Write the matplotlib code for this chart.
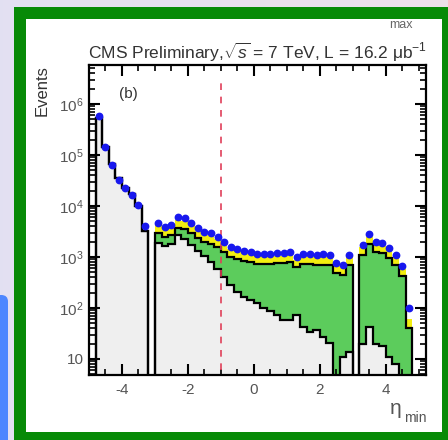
import matplotlib.pyplot as plt
import numpy as np
from matplotlib.patches import Rectangle, FancyBboxPatch

plt.rcParams['font.family'] = ['Liberation Sans', 'DejaVu Sans']
plt.rcParams['mathtext.fontset'] = 'custom'
plt.rcParams['mathtext.rm'] = 'Liberation Sans'
plt.rcParams['mathtext.it'] = 'Liberation Sans:italic'

# bins in eta_min, 0.2 wide, from -4.8 to 4.8
edges = np.round(np.arange(-4.8, 4.8 + 0.1, 0.2), 1)

# measured events (blue points)
data_counts = [575000, 145000, 63000, 32000, 22000, 16500, 10500, 4100, 0,
               4700, 3900, 4300, 6000, 5700, 4700, 3700, 3100, 2900, 2500,
               2000, 1600, 1450, 1320, 1260, 1150, 1150, 1150, 1200, 1200,
               1260, 1000, 1150, 1150, 1100, 1120, 1100, 760, 690, 1100, 0,
               1740, 2800, 1950, 1860, 1510, 1100, 660, 100]

# stacked components
grey_counts = [540000, 140000, 66000, 35000, 23000, 17500, 10000, 3300, 0,
               1860, 1660, 1780, 2700, 2240, 1740, 1320, 1050, 790, 575,
               400, 280, 210, 166, 145, 126, 100, 87, 72, 58,
               58, 72, 43, 34, 37, 27, 21, 0, 11, 14, 0,
               20, 42, 20, 18, 11, 8, 0, 0]
green_counts = [0, 0, 0, 0, 0, 0, 0, 0, 0,
                1100, 800, 930, 1080, 1350, 1220, 1010, 900, 1040, 1000,
                860, 730, 700, 665, 650, 600, 625, 638, 684, 698,
                736, 558, 682, 691, 656, 679, 672, 479, 424, 679, 0,
                1076, 1722, 1209, 1154, 940, 685, 416, 40]
yellow_counts = [0, 0, 0, 0, 0, 0, 0, 0, 0,
                 1220, 1010, 1120, 1560, 1480, 1220, 960, 800, 750, 650,
                 520, 420, 380, 340, 330, 300, 300, 300, 310, 310,
                 330, 260, 300, 300, 290, 290, 290, 200, 180, 290, 0,
                 450, 730, 510, 480, 390, 290, 170, 20]

eta_cut = -1.0

xtick_vals = [-4, -2, 0, 2, 4]
xtick_labels = ['-4', '-2', '0', '2', '4']
ytick_vals = [10, 1e2, 1e3, 1e4, 1e5, 1e6]
ytick_labels = ['10', '10$^{2}$', '10$^{3}$', '10$^{4}$', '10$^{5}$', '10$^{6}$']

W, H = 448, 440
fig = plt.figure(figsize=(W / 100, H / 100), dpi=100)

# page background with a soft lavender-to-pink gradient
bg = fig.add_axes([0, 0, 1, 1], zorder=-10)
grad = np.linspace(0, 1, 256)[None, :]
c0 = np.array([0.89, 0.88, 0.95])
c1 = np.array([0.93, 0.88, 0.92])
img = c0[None, None, :] * (1 - grad[..., None]) + c1[None, None, :] * grad[..., None]
bg.imshow(img, aspect='auto', extent=[0, 1, 0, 1])
bg.set_xlim(0, 1)
bg.set_ylim(0, 1)
bg.axis('off')

def px_rect(x0, y0, x1, y1, **kw):
    return Rectangle((x0 / W, 1 - y1 / H), (x1 - x0) / W, (y1 - y0) / H,
                     transform=fig.transFigure, **kw)

bg.add_patch(FancyBboxPatch((-20 / W, 1 - 460 / H), 28 / W, 165 / H,
                            boxstyle='round,pad=0,rounding_size=0.015',
                            transform=fig.transFigure, color='#4d86ff', lw=0))
bg.add_patch(px_rect(14, 7, 450, 442, color='#078a07', lw=0))
bg.add_patch(px_rect(26, 19, 442, 432, color='white', lw=0))

ax = fig.add_axes([89 / W, 1 - 375 / H, (426 - 89) / W, (375 - 65) / H])
ax.set_yscale('log')

floor = 1.0
grey = np.array(grey_counts, dtype=float)
green_top = grey + np.array(green_counts)
total = green_top + np.array(yellow_counts)
data = np.array(data_counts, dtype=float)

def fl(v):
    return np.where(v > 0, v, floor)

ax.stairs(fl(total), edges, baseline=floor, fill=True, color='#f2ee10', lw=0)
ax.stairs(fl(green_top), edges, baseline=floor, fill=True, color='#5ccc5c', lw=0)
ax.stairs(fl(grey), edges, baseline=floor, fill=True, color='#efefef', lw=0)
ax.stairs(fl(green_top), edges, baseline=floor, color='black', lw=1.6)
ax.stairs(fl(grey), edges, baseline=floor, color='black', lw=1.6)

ax.vlines(eta_cut, 1, 3e6, colors='#e0405a', linestyles=(0, (4, 4)), lw=1.2)

centers = (edges[:-1] + edges[1:]) / 2
m = data > 0
ax.plot(centers[m], data[m], 'o', color='#1818ee', ms=4.6, mec='#1818ee', zorder=5)

ax.set_xlim(-5, 5.22)
ax.set_ylim(4.85, 5.8e6)

ax.set_xticks(xtick_vals, xtick_labels)
ax.set_xticks(np.arange(-5, 5.01, 0.5), minor=True)
ax.set_yticks(ytick_vals, ytick_labels)
ax.tick_params(which='both', direction='in', top=True, right=True,
               colors='black', labelcolor='#555555', labelsize=11)
ax.tick_params(which='major', length=8, width=1.5)
ax.tick_params(which='minor', length=4, width=1.2)
ax.tick_params(axis='x', pad=6)
ax.tick_params(axis='y', pad=4)
for s in ax.spines.values():
    s.set_linewidth(1.6)

fig.text(258 / W, 1 - 52 / H, 'CMS Preliminary,$\\sqrt{s}$ = 7 TeV, L = 16.2 μb$^{-1}$',
         ha='center', va='center', fontsize=12.5, color='#333333')
fig.text(401 / W, 1 - 25 / H, 'max', ha='center', va='center', fontsize=9, color='#666666')
fig.text(42 / W, 1 - 91 / H, 'Events', rotation=90, ha='center', va='center',
         fontsize=12, color='#333333')
ax.text(-4.1, 1.6e6, '(b)', ha='left', va='center', fontsize=11, color='#333333')
fig.text(396 / W, 1 - 408 / H, 'η', ha='center', va='center', fontsize=15, color='#555555')
fig.text(415 / W, 1 - 418 / H, 'min', ha='center', va='center', fontsize=10, color='#555555')

fig.savefig('out.png', dpi=100)
